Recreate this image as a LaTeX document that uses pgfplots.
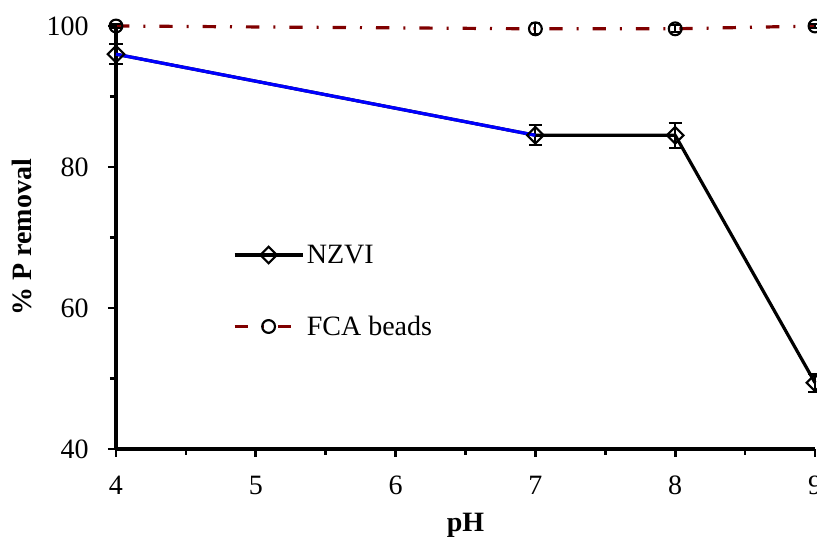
\documentclass[border=0pt]{standalone}
\usepackage{pgfplots}
\pgfplotsset{compat=1.18}
\usepackage{fontspec}
\setmainfont{Liberation Serif}
\definecolor{darkred}{RGB}{128,0,0}

\begin{document}
\begin{tikzpicture}
\begin{axis}[
    scale only axis,
    width=524.25pt, height=317.25pt,
    xmin=4, xmax=9, ymin=40, ymax=100,
    axis x line*=bottom, axis y line*=left,
    axis line style={line width=3pt},
    xtick={4,5,6,7,8,9}, ytick={40,60,80,100},
    minor xtick={4.5,5.5,6.5,7.5,8.5}, minor ytick={50,70,90},
    tick align=outside,
    major tick length=6pt, minor tick length=4.5pt,
    every tick/.style={black, line width=2pt},
    tick label style={font=\fontsize{21}{25}\selectfont},
    yticklabel style={xshift=-11pt},
    xticklabel style={yshift=-10.5pt},
    /pgf/number format/assume math mode=true,
    label style={font=\fontsize{21}{25}\selectfont\bfseries},
    xlabel={pH}, ylabel={\% P removal},
    xlabel style={at={(axis description cs:0.5,-0.18)}, anchor=center},
    ylabel style={at={(axis description cs:-0.1345,0.5)}, anchor=center},
    clip=false,
    legend style={at={(axis description cs:0.167,0.3735)}, anchor=west,
        draw=none, fill=none, row sep=34pt, inner sep=0pt,
        font=\fontsize{21}{25}\selectfont},
    legend cell align=left,
    legend image code/.code={\draw[mark repeat=2, mark phase=2, #1]
        plot coordinates {(0pt,0pt) (25.5pt,0pt) (51pt,0pt)};},
]

% NZVI
\addplot[black, line width=2.4pt, mark=square, mark size=4.4pt,
    mark options={rotate=45, line width=1.6pt},
    error bars/.cd, y dir=both, y explicit,
    error bar style={line width=1.5pt, black},
    error mark options={rotate=90, mark size=5pt, line width=1.5pt, black}]
    coordinates {
    (4,96.0) +- (0,1.4)
    (7,84.5) +- (0,1.4)
    (8,84.5) +- (0,1.8)
    (9,49.4) +- (0,1.3)
};
\addlegendentry{NZVI}

% FCA beads
\addplot[darkred, line width=2.4pt, dash pattern=on 10pt off 10.5pt on 1.5pt off 10.5pt,
    mark=o, mark size=4.8pt, mark options={solid, black, line width=1.6pt},
    error bars/.cd, y dir=both, y explicit,
    error bar style={line width=1.5pt, black, solid},
    error mark options={rotate=90, mark size=3.5pt, line width=1.5pt, black, solid}]
    coordinates {
    (4,100.0) +- (0,0.3)
    (7,99.6) +- (0,0.8)
    (8,99.6) +- (0,0.5)
    (9,100.0) +- (0,0.3)
};
\addlegendentry{FCA beads}

% first segment of NZVI drawn in blue
\addplot[blue, line width=2.4pt, forget plot] coordinates {(4,96.0) (7,84.5)};

\end{axis}
\pgfresetboundingbox
\path[use as bounding box] ([xshift=-87pt,yshift=-69pt]current axis.south west)
    rectangle ([xshift=1.5pt,yshift=19.5pt]current axis.north east);
\end{tikzpicture}
\end{document}
